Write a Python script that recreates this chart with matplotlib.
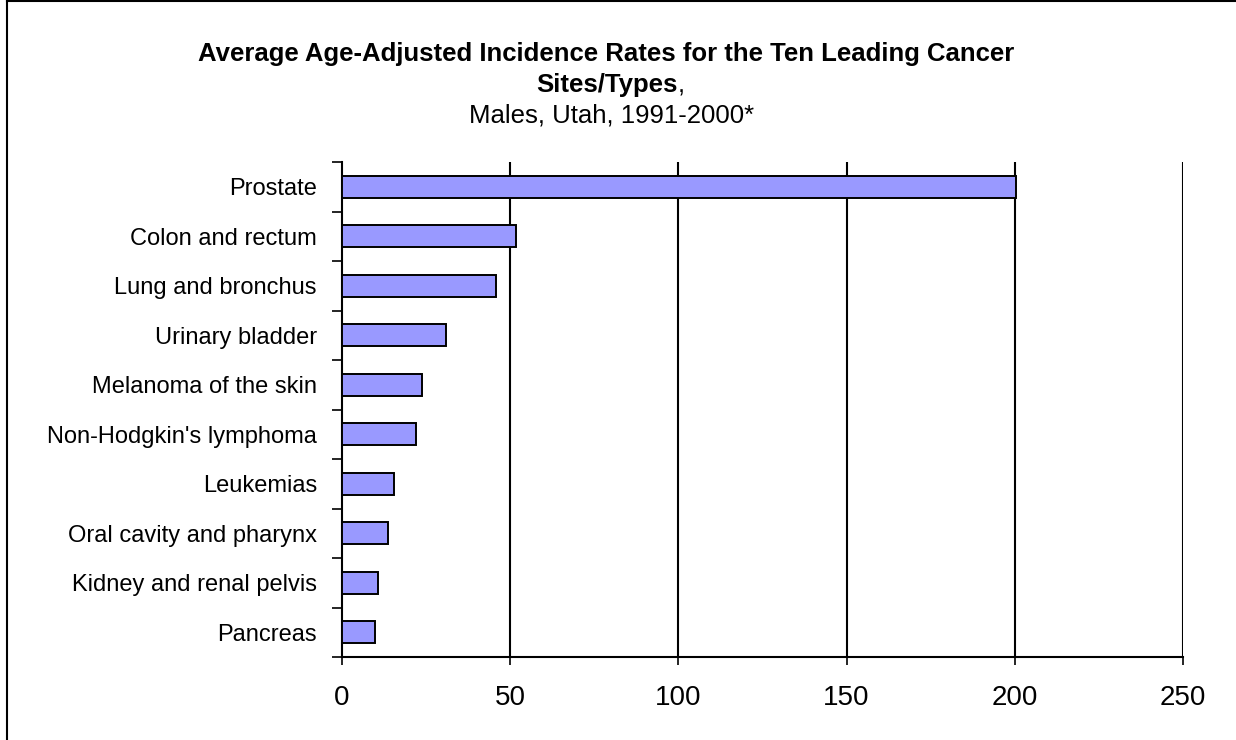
import numpy as np
import matplotlib.pyplot as plt
from matplotlib.lines import Line2D
from matplotlib.ticker import FixedLocator

plt.rcParams['font.family'] = ['Liberation Sans', 'DejaVu Sans']

# cancer sites, top to bottom, and their rates per 100,000
sites = ['Prostate', 'Colon and rectum', 'Lung and bronchus', 'Urinary bladder',
         'Melanoma of the skin', "Non-Hodgkin's lymphoma", 'Leukemias',
         'Oral cavity and pharynx', 'Kidney and renal pelvis', 'Pancreas']
rates = [200.3, 51.7, 45.8, 30.8, 23.7, 22.0, 15.4, 13.6, 10.7, 9.9]
xticks = [0, 50, 100, 150, 200, 250]

W, H = 1236, 740
fig = plt.figure(figsize=(W / 100, H / 100), dpi=100)
ax = fig.add_axes([342 / W, 1 - 657 / H, (1183 - 342) / W, (657 - 162) / H])

ypos = np.arange(len(sites))[::-1]
ax.barh(ypos, rates, height=0.44, color='#9999FF', edgecolor='black', linewidth=1.4, zorder=3)

ax.set_xlim(0, 250)
ax.set_ylim(-0.5, len(sites) - 0.5)
ax.set_xticks(xticks)
ax.set_xticklabels([str(t) for t in xticks], fontsize=20)
ax.tick_params(axis='x', length=6, width=1.2, pad=14)

ax.set_yticks(ypos)
ax.set_yticklabels(sites, fontsize=17)
ax.yaxis.set_minor_locator(FixedLocator(np.arange(-0.5, len(sites), 1.0)))
ax.tick_params(axis='y', which='major', length=0, pad=18)
ax.tick_params(axis='y', which='minor', length=7, width=1.2)

for t in xticks[1:]:
    ax.axvline(t, color='black', linewidth=1.5, zorder=2)

for s in ['top', 'right']:
    ax.spines[s].set_visible(False)
for s in ['left', 'bottom']:
    ax.spines[s].set_linewidth(1.5)

# title, three lines with a mixed bold line
fig.text(606 / W, 1 - 54 / H, 'Average Age-Adjusted Incidence Rates for the Ten Leading Cancer',
         ha='center', va='center', fontsize=18.5, fontweight='bold')
fig.text(678 / W, 1 - 85 / H, 'Sites/Types', ha='right', va='center', fontsize=18.5, fontweight='bold')
fig.text(678 / W, 1 - 85 / H, ',', ha='left', va='center', fontsize=18.5)
fig.text(612 / W, 1 - 116 / H, 'Males, Utah, 1991-2000*', ha='center', va='center', fontsize=18.5)

# outer frame (left and top edges)
fig.add_artist(Line2D([7 / W, 7 / W], [0, 1 - 1 / H], transform=fig.transFigure, color='black', linewidth=1.5))
fig.add_artist(Line2D([7 / W, 1], [1 - 1 / H, 1 - 1 / H], transform=fig.transFigure, color='black', linewidth=1.5))

fig.savefig('out.png', dpi=100)
